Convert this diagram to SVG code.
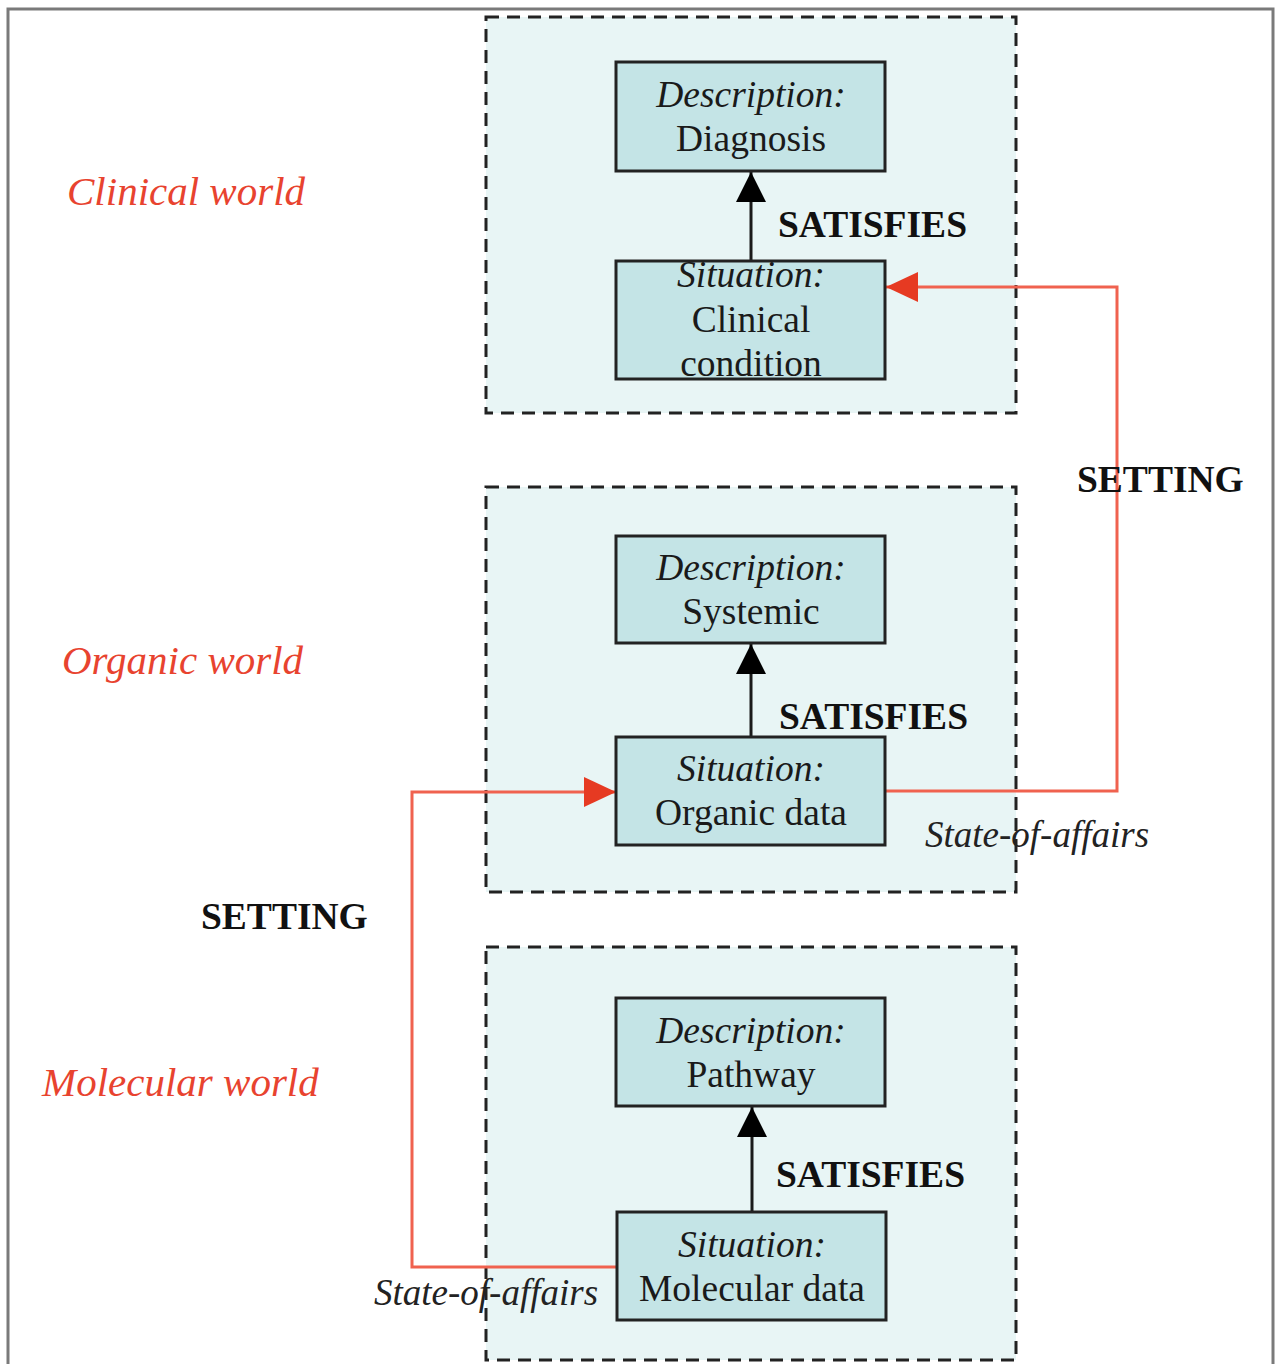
<svg xmlns="http://www.w3.org/2000/svg" width="1276" height="1364" viewBox="0 0 1276 1364">
  <style>
    .frame { fill: #ffffff; stroke: #7a7a7a; stroke-width: 3; }
    .world { fill: #e8f5f5; stroke: #222222; stroke-width: 3; stroke-dasharray: 13 8; }
    .node { fill: #c4e4e6; stroke: #222222; stroke-width: 3; }
    .t { font-family: "Liberation Serif", "Times New Roman", serif; font-size: 37.5px; fill: #1a1a1a; text-anchor: middle; }
    .it { font-style: italic; }
    .lbl { font-family: "Liberation Serif", "Times New Roman", serif; font-size: 37.5px; font-weight: bold; fill: #111111; }
    .soa { font-family: "Liberation Serif", "Times New Roman", serif; font-size: 37px; font-style: italic; fill: #222222; }
    .wname { font-family: "Liberation Serif", "Times New Roman", serif; font-size: 41px; font-style: italic; fill: #e8432f; }
    .sat { fill: none; stroke: #1a1a1a; stroke-width: 3; }
    .set { fill: none; stroke: #f0624f; stroke-width: 3; }
  </style>
  <defs>
    <marker id="headBlack" markerUnits="userSpaceOnUse" markerWidth="30" markerHeight="30" refX="30" refY="15" orient="auto">
      <path d="M0,0 L30,15 L0,30 z" fill="#000000"/>
    </marker>
    <marker id="headRed" markerUnits="userSpaceOnUse" markerWidth="32" markerHeight="30" refX="32" refY="15" orient="auto">
      <path d="M0,0 L32,15 L0,30 z" fill="#e63a22"/>
    </marker>
  </defs>

  <!-- outer frame -->
  <rect class="frame" x="8" y="9" width="1265" height="1370"/>

  <!-- world regions -->
  <g id="clinical-world">
    <rect class="world" x="486" y="17" width="530" height="396"/>
    <text class="wname" x="67" y="205">Clinical world</text>
  </g>
  <g id="organic-world">
    <rect class="world" x="486" y="487" width="530" height="405"/>
    <text class="wname" x="62" y="674">Organic world</text>
  </g>
  <g id="molecular-world">
    <rect class="world" x="486" y="947" width="530" height="413"/>
    <text class="wname" x="42" y="1096">Molecular world</text>
  </g>

  <!-- connectors -->
  <g id="connectors">
    <path class="sat" d="M751,261 V172" marker-end="url(#headBlack)"/>
    <path class="sat" d="M751,737 V644" marker-end="url(#headBlack)"/>
    <path class="sat" d="M752,1212 V1107" marker-end="url(#headBlack)"/>
    <path class="set" d="M885,791 H1117 V287 H886" marker-end="url(#headRed)"/>
    <path class="set" d="M617,1267 H412 V792 H616" marker-end="url(#headRed)"/>
    <text class="lbl" x="778" y="237">SATISFIES</text>
    <text class="lbl" x="779" y="729">SATISFIES</text>
    <text class="lbl" x="776" y="1187">SATISFIES</text>
    <text class="lbl" x="1077" y="492">SETTING</text>
    <text class="lbl" x="201" y="929">SETTING</text>
    <text class="soa" x="925" y="847">State-of-affairs</text>
    <text class="soa" x="374" y="1305">State-of-affairs</text>
  </g>

  <!-- nodes -->
  <g id="desc-diagnosis">
    <rect class="node" x="616" y="62" width="269" height="109"/>
    <text class="t it" x="751" y="107">Description:</text>
    <text class="t" x="751" y="151">Diagnosis</text>
  </g>
  <g id="sit-clinical">
    <rect class="node" x="616" y="261" width="269" height="118"/>
    <text class="t it" x="751" y="287">Situation:</text>
    <text class="t" x="751" y="332">Clinical</text>
    <text class="t" x="751" y="376">condition</text>
  </g>
  <g id="desc-systemic">
    <rect class="node" x="616" y="536" width="269" height="107"/>
    <text class="t it" x="751" y="580">Description:</text>
    <text class="t" x="751" y="624">Systemic</text>
  </g>
  <g id="sit-organic">
    <rect class="node" x="616" y="737" width="269" height="108"/>
    <text class="t it" x="751" y="781">Situation:</text>
    <text class="t" x="751" y="825">Organic data</text>
  </g>
  <g id="desc-pathway">
    <rect class="node" x="616" y="998" width="269" height="108"/>
    <text class="t it" x="751" y="1043">Description:</text>
    <text class="t" x="751" y="1087">Pathway</text>
  </g>
  <g id="sit-molecular">
    <rect class="node" x="617" y="1212" width="269" height="108"/>
    <text class="t it" x="752" y="1257">Situation:</text>
    <text class="t" x="752" y="1301">Molecular data</text>
  </g>
</svg>
